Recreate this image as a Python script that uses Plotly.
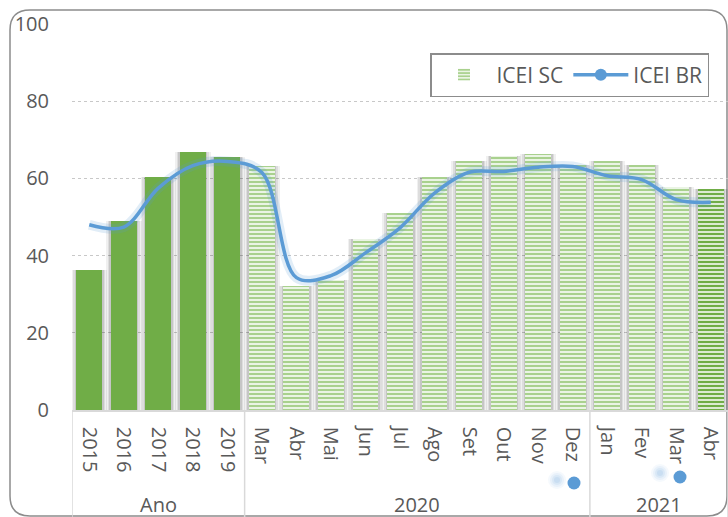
import plotly.graph_objects as go

# Category labels and their groups
labels = ["2015", "2016", "2017", "2018", "2019",
          "Mar", "Abr", "Mai", "Jun", "Jul", "Ago", "Set", "Out", "Nov", "Dez",
          "Jan", "Fev", "Mar", "Abr"]
groups = ["Ano"] * 5 + ["2020"] * 10 + ["2021"] * 4
group_names = ["Ano", "2020", "2021"]

# Series values
icei_sc = [36.4, 49.0, 60.4, 66.9, 65.6,
           63.1, 32.2, 33.8, 44.4, 51.0, 60.4, 64.6, 65.7, 66.2, 63.5,
           64.6, 63.5, 57.8, 57.3]
icei_br = [48.0, 47.4, 57.5, 63.3, 64.4,
           61.5, 34.3, 34.8, 40.7, 47.2, 56.2, 61.6, 61.8, 62.9, 63.1,
           60.7, 59.7, 54.5, 53.8]

y_ticks = [0, 20, 40, 60, 80, 100]

GREEN = "#70AD47"
LIGHT_GREEN = "#A9D18E"
BLUE = "#5B9BD5"
TEXT = "#595959"
FONT = "Open Sans"

x = list(range(len(labels)))
annual = [i for i, g in enumerate(groups) if g == "Ano"]
monthly = [i for i, g in enumerate(groups) if g != "Ano"]

# stripe colour per monthly bar: the latest month is drawn darker
stripe_colors = [LIGHT_GREEN] * (len(monthly) - 1) + [GREEN]

BAR_W = 0.75

fig = go.Figure()

# soft shadow behind every bar
for extra, alpha in [(0.28, 0.06), (0.18, 0.08), (0.09, 0.10)]:
    fig.add_trace(go.Bar(
        x=x, y=icei_sc, width=BAR_W + extra,
        marker=dict(color=f"rgba(0,0,0,{alpha})", line=dict(width=0)),
        showlegend=False, hoverinfo="skip"))

# annual bars (solid)
fig.add_trace(go.Bar(
    x=annual, y=[icei_sc[i] for i in annual], width=BAR_W,
    marker=dict(color=GREEN, line=dict(width=0)),
    name="ICEI SC", legendgroup="sc", showlegend=False))

# monthly bars (horizontal stripes)
fig.add_trace(go.Bar(
    x=monthly, y=[icei_sc[i] for i in monthly], width=BAR_W,
    marker=dict(
        color="white", line=dict(width=0),
        pattern=dict(shape="-", fgcolor=stripe_colors, bgcolor="white",
                     size=4, solidity=0.62, fillmode="replace")),
    name="ICEI SC", legendgroup="sc", showlegend=True))

# glow under the BR line
fig.add_trace(go.Scatter(
    x=x, y=icei_br, mode="lines",
    line=dict(color="rgba(91,155,213,0.18)", width=10, shape="spline", smoothing=1.0),
    showlegend=False, hoverinfo="skip"))

# ICEI BR smoothed line
fig.add_trace(go.Scatter(
    x=x, y=icei_br, mode="lines",
    line=dict(color=BLUE, width=3.5, shape="spline", smoothing=1.0),
    name="ICEI BR", showlegend=False))

# legend entry for the BR line (line with marker)
fig.add_trace(go.Scatter(
    x=[None], y=[None], mode="lines+markers",
    line=dict(color=BLUE, width=3.5),
    marker=dict(color=BLUE, size=12),
    name="ICEI BR", showlegend=True))

# pixel -> paper helpers for decorations
L, R, T, B = 72, 728, 24, 410
def fx(px):
    return (px - L) / (R - L)
def fy(py):
    return (B - py) / (B - T)

shapes = []

# rounded chart frame
fl, ft, fr, fb, rad = 10, 10, 727, 516, 20
frame_path = (
    f"M{fx(fl+rad)},{fy(ft)} L{fx(fr-rad)},{fy(ft)} "
    f"Q{fx(fr)},{fy(ft)} {fx(fr)},{fy(ft+rad)} "
    f"L{fx(fr)},{fy(fb-rad)} Q{fx(fr)},{fy(fb)} {fx(fr-rad)},{fy(fb)} "
    f"L{fx(fl+rad)},{fy(fb)} Q{fx(fl)},{fy(fb)} {fx(fl)},{fy(fb-rad)} "
    f"L{fx(fl)},{fy(ft+rad)} Q{fx(fl)},{fy(ft)} {fx(fl+rad)},{fy(ft)} Z"
)
shapes.append(dict(type="path", xref="paper", yref="paper", path=frame_path,
                   line=dict(color="#8C8C8C", width=1.5), fillcolor="rgba(0,0,0,0)",
                   layer="below"))

# group dividers under the axis
bounds = [-0.5]
for i in range(1, len(groups)):
    if groups[i] != groups[i - 1]:
        bounds.append(i - 0.5)
bounds.append(len(groups) - 0.5)
for b in bounds:
    shapes.append(dict(type="line", xref="x", yref="paper", x0=b, x1=b,
                       y0=0, y1=-0.32, line=dict(color="#D9D9D9", width=1.5)))

# small blue dots near the axis labels (one crisp, one blurred)
def dot(cx, cy, r, color):
    return dict(type="circle", xref="paper", yref="paper",
                xsizemode="pixel", ysizemode="pixel",
                xanchor=fx(cx), yanchor=fy(cy),
                x0=-r, x1=r, y0=-r, y1=r,
                fillcolor=color, line=dict(width=0), layer="above")

for cx, cy in [(557, 480), (660, 473)]:
    for r, a in [(9, 0.06), (7, 0.08), (5, 0.10), (3, 0.12)]:
        shapes.append(dot(cx, cy, r, f"rgba(91,155,213,{a})"))
for cx, cy in [(574, 483), (680, 477)]:
    shapes.append(dot(cx, cy, 6.5, BLUE))

# group titles
annotations = []
for g in group_names:
    idx = [i for i, gg in enumerate(groups) if gg == g]
    annotations.append(dict(
        x=(idx[0] + idx[-1]) / 2, y=fy(504), xref="x", yref="paper",
        text=g, showarrow=False, yanchor="middle", xanchor="center",
        font=dict(family=FONT, size=20, color=TEXT)))

fig.update_layout(
    width=728, height=517, autosize=False,
    margin=dict(l=L, r=728 - R, t=T, b=517 - B),
    paper_bgcolor="white", plot_bgcolor="white",
    barmode="overlay", bargap=0,
    font=dict(family=FONT, size=20, color=TEXT),
    showlegend=True,
    legend=dict(
        orientation="h", x=fx(709), xanchor="right", y=fy(53), yanchor="top",
        bgcolor="white", bordercolor="#8C8C8C", borderwidth=1.5,
        font=dict(family=FONT, size=21, color=TEXT),
        itemwidth=55, traceorder="normal"),
    xaxis=dict(
        range=[-0.5, len(labels) - 0.5],
        tickmode="array", tickvals=x, ticktext=labels, tickangle=90,
        ticks="outside", ticklen=11, tickcolor="rgba(0,0,0,0)",
        showgrid=False, zeroline=False,
        showline=True, linecolor="#D9D9D9", linewidth=1.5,
        tickfont=dict(family=FONT, size=20, color=TEXT)),
    yaxis=dict(
        range=[0, 100], tickmode="array", tickvals=y_ticks,
        ticks="outside", ticklen=18, tickcolor="rgba(0,0,0,0)",
        showgrid=True, gridcolor="#C8C8C8", griddash="dot", gridwidth=1.2,
        zeroline=False, showline=False,
        tickfont=dict(family=FONT, size=20, color=TEXT)),
    shapes=shapes,
    annotations=annotations,
)

fig.write_html("out.html")
